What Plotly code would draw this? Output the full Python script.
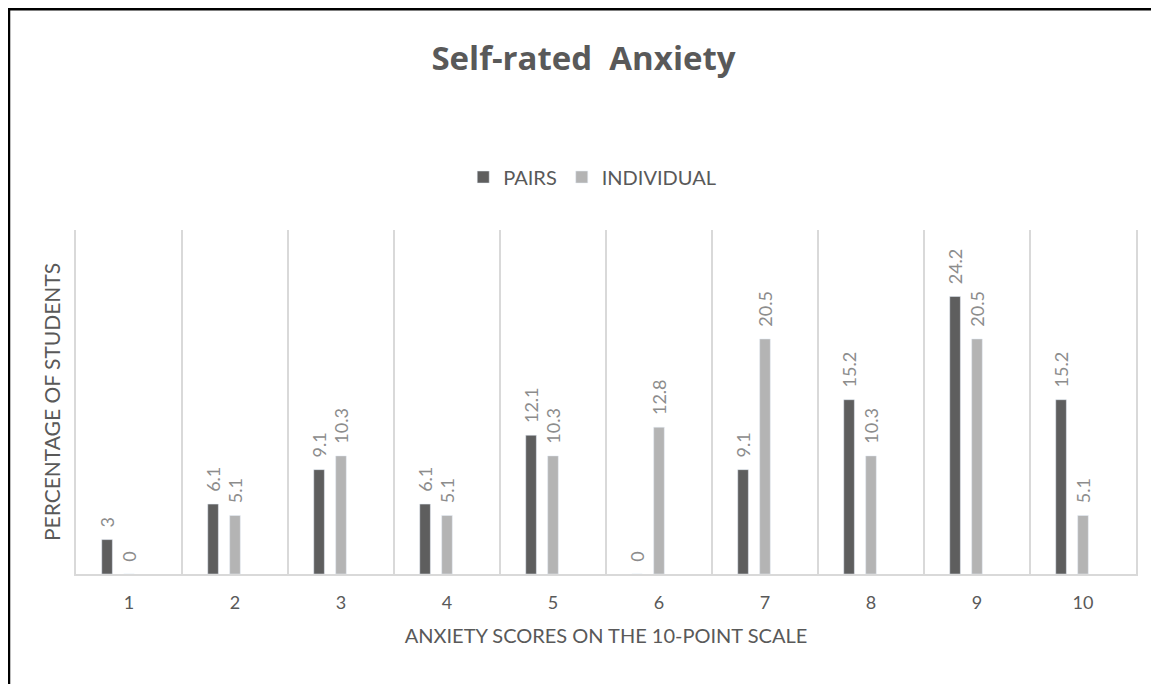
import plotly.graph_objects as go

# data
scores = ["1", "2", "3", "4", "5", "6", "7", "8", "9", "10"]
pairs = [3, 6.1, 9.1, 6.1, 12.1, 0, 9.1, 15.2, 24.2, 15.2]
individual = [0, 5.1, 10.3, 5.1, 10.3, 12.8, 20.5, 10.3, 20.5, 5.1]

FONT = "Lato, 'Open Sans', sans-serif"
GREY = "#595959"
label_font = dict(family=FONT, size=18, color="#8c8c8c")

fig = go.Figure()
fig.add_trace(go.Bar(
    x=scores, y=pairs, name="PAIRS",
    marker_color="#5e5e5e",
    width=0.1, offset=-0.257,
    text=[str(v) for v in pairs], texttemplate="\u00a0\u00a0%{text}",
    textposition="outside", textangle=-90, textfont=label_font,
    constraintext="none", cliponaxis=False,
))
fig.add_trace(go.Bar(
    x=scores, y=individual, name="INDIVIDUAL",
    marker_color="#b4b4b4",
    width=0.1, offset=-0.05,
    text=[str(v) for v in individual], texttemplate="\u00a0\u00a0%{text}",
    textposition="outside", textangle=-90, textfont=label_font,
    constraintext="none", cliponaxis=False,
))

fig.update_layout(
    width=1151, height=676,
    margin=dict(l=68, r=23, t=222, b=110),
    paper_bgcolor="white", plot_bgcolor="white",
    font=dict(family=FONT, color=GREY),
    title=dict(text="<b>Self-rated  Anxiety</b>", x=0.5, xanchor="center",
               xref="container", yref="container", y=0.926, yanchor="middle",
               font=dict(family="'Open Sans', sans-serif", size=33, color=GREY)),
    legend=dict(orientation="h", x=0.487, xanchor="center", y=1.154, yanchor="middle",
                font=dict(family=FONT, size=20, color=GREY),
                itemwidth=30, traceorder="normal"),
    showlegend=True,
)
fig.update_xaxes(
    type="category", tickson="boundaries", showgrid=True, gridcolor="#d9d9d9",
    gridwidth=2, showline=True, linecolor="#d9d9d9", linewidth=2,
    ticks="", ticklabelstandoff=11,
    tickfont=dict(family=FONT, size=18, color=GREY),
    title=dict(text="ANXIETY SCORES ON THE 10-POINT SCALE", standoff=17,
               font=dict(family=FONT, size=20, color=GREY)),
)
fig.update_yaxes(
    range=[0, 30], showgrid=False, showticklabels=False, zeroline=False,
    showline=True, linecolor="#d9d9d9", linewidth=2, mirror=True, ticks="",
    title=dict(text="PERCENTAGE OF STUDENTS", standoff=8,
               font=dict(family=FONT, size=21, color=GREY)),
)
# outer frame
fig.add_shape(type="rect", xref="paper", yref="paper",
              x0=-0.0632, x1=1.0198, y0=-0.5, y1=1.642,
              line=dict(color="black", width=2.5))

fig.write_html("out.html")
